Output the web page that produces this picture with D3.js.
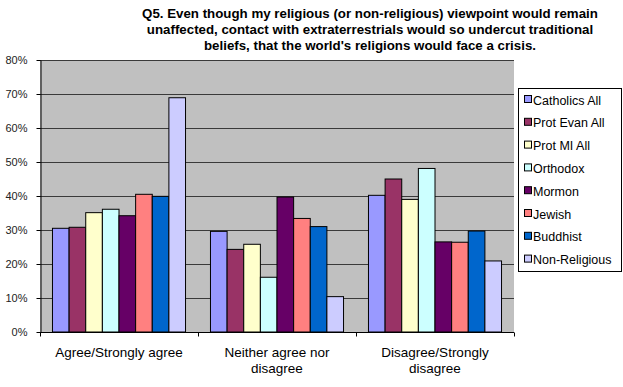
<!DOCTYPE html>
<html>
<head>
<meta charset="utf-8">
<script src="https://cdn.jsdelivr.net/npm/d3@7"></script>
<style>
  body { margin: 0; background: #fff; }
  svg { font-family: "Liberation Sans", Arial, sans-serif; }
</style>
</head>
<body>
<div id="chart"></div>
<script>
const categories = ["Agree/Strongly agree", "Neither agree nor disagree", "Disagree/Strongly disagree"];
const seriesNames = ["Catholics All", "Prot Evan All", "Prot MI All", "Orthodox", "Mormon", "Jewish", "Buddhist", "Non-Religious"];
const catholics = [30.5, 29.6, 40.2];
const protEvan = [30.8, 24.3, 45.0];
const protMI = [35.1, 25.8, 39.0];
const orthodox = [36.1, 16.1, 48.1];
const mormon = [34.2, 39.7, 26.5];
const jewish = [40.5, 33.4, 26.4];
const buddhist = [39.9, 31.0, 29.7];
const nonReligious = [68.9, 10.4, 20.9];
const yTicks = [0, 10, 20, 30, 40, 50, 60, 70, 80];
const colors = ["#9999FF", "#993366", "#FFFFCC", "#CCFFFF", "#660066", "#FF8080", "#0066CC", "#CCCCFF"];

const seriesValues = [catholics, protEvan, protMI, orthodox, mormon, jewish, buddhist, nonReligious];

const W = 623, H = 387;
const plot = { left: 40, right: 514, top: 60, bottom: 332 };

const svg = d3.select('#chart').append('svg')
    .attr('width', W)
    .attr('height', H);

// title
const title = ["Q5. Even though my religious (or non-religious) viewpoint would remain",
               "unaffected, contact with extraterrestrials would so undercut traditional",
               "beliefs, that the world's religions would face a crisis."];
svg.append('g').selectAll('text')
    .data(title).enter()
    .append('text')
        .attr('x', 370)
        .attr('y', (d, i) => 18 + i * 16)
        .attr('text-anchor', 'middle')
        .attr('font-size', 13.3)
        .attr('font-weight', 'bold')
        .attr('fill', '#000')
        .text(d => d);

const x0 = d3.scaleBand()
    .domain(categories)
    .range([plot.left, plot.right])
    .paddingInner(0)
    .paddingOuter(0);

const x1 = d3.scaleBand()
    .domain(seriesNames)
    .range([0, x0.bandwidth()])
    .paddingOuter(0.75)
    .paddingInner(0);

const y = d3.scaleLinear()
    .domain([0, 80])
    .range([plot.bottom, plot.top]);

// plot background
svg.append('rect')
    .attr('x', plot.left)
    .attr('y', plot.top)
    .attr('width', plot.right - plot.left)
    .attr('height', plot.bottom - plot.top)
    .attr('fill', '#C0C0C0');

// gridlines
svg.append('g').selectAll('line')
    .data(yTicks.filter(d => d > 0)).enter()
    .append('line')
        .attr('x1', plot.left)
        .attr('x2', plot.right)
        .attr('y1', d => y(d) + 0.5)
        .attr('y2', d => y(d) + 0.5)
        .attr('stroke', '#3a3a3a')
        .attr('stroke-width', 1);

// bars
const rows = [];
categories.forEach((c, ci) => {
    seriesNames.forEach((s, si) => {
        rows.push({ cat: c, name: s, value: seriesValues[si][ci], color: colors[si] });
    });
});

svg.append('g').selectAll('rect')
    .data(rows).enter()
    .append('rect')
        .attr('x', d => x0(d.cat) + x1(d.name))
        .attr('y', d => y(d.value))
        .attr('width', x1.bandwidth())
        .attr('height', d => y(0) - y(d.value))
        .attr('fill', d => d.color)
        .attr('stroke', '#000')
        .attr('stroke-width', 1);

// y axis
const yAxis = svg.append('g')
    .attr('transform', `translate(${plot.left + 0.5},0)`)
    .call(d3.axisLeft(y).tickValues(yTicks).tickFormat(d => d + '%').tickSize(4).tickPadding(9).tickSizeOuter(0));
yAxis.select('.domain').attr('stroke', '#000');
yAxis.selectAll('.tick line').attr('stroke', '#000');
yAxis.selectAll('text')
    .attr('font-size', 11)
    .attr('font-family', '"Liberation Sans", Arial, sans-serif')
    .attr('fill', '#222');

// x axis
const xAxis = svg.append('g')
    .attr('transform', `translate(0,${plot.bottom + 0.5})`);
xAxis.append('line')
    .attr('x1', plot.left)
    .attr('x2', plot.right)
    .attr('stroke', '#000');
const xTicks = x0.domain().map(d => x0(d)).concat([plot.right]);
xAxis.selectAll('.xt')
    .data(xTicks).enter()
    .append('line')
        .attr('class', 'xt')
        .attr('x1', d => Math.round(d) + 0.5)
        .attr('x2', d => Math.round(d) + 0.5)
        .attr('y1', 0)
        .attr('y2', 4)
        .attr('stroke', '#000');

const xLabels = {
    "Agree/Strongly agree": ["Agree/Strongly agree"],
    "Neither agree nor disagree": ["Neither agree nor", "disagree"],
    "Disagree/Strongly disagree": ["Disagree/Strongly", "disagree"]
};
categories.forEach(c => {
    const t = svg.append('text')
        .attr('x', x0(c) + x0.bandwidth() / 2)
        .attr('y', 357)
        .attr('text-anchor', 'middle')
        .attr('font-size', 13.5)
        .attr('fill', '#000');
    xLabels[c].forEach((line, i) => {
        t.append('tspan')
            .attr('x', x0(c) + x0.bandwidth() / 2)
            .attr('dy', i === 0 ? 0 : 16)
            .text(line);
    });
});

// legend
const legend = svg.append('g');
legend.append('rect')
    .attr('x', 518.5)
    .attr('y', 88.5)
    .attr('width', 103)
    .attr('height', 183)
    .attr('fill', '#fff')
    .attr('stroke', '#000');

const items = legend.selectAll('.item')
    .data(seriesNames).enter()
    .append('g')
        .attr('class', 'item')
        .attr('transform', (d, i) => `translate(524,${100 + i * 22.8})`);
items.append('rect')
    .attr('x', 0.5)
    .attr('y', -4.5)
    .attr('width', 7)
    .attr('height', 7)
    .attr('fill', (d, i) => colors[i])
    .attr('stroke', '#000');
items.append('text')
    .attr('x', 9)
    .attr('y', 4.5)
    .attr('font-size', 12.5)
    .attr('fill', '#000')
    .text(d => d);
</script>
</body>
</html>
